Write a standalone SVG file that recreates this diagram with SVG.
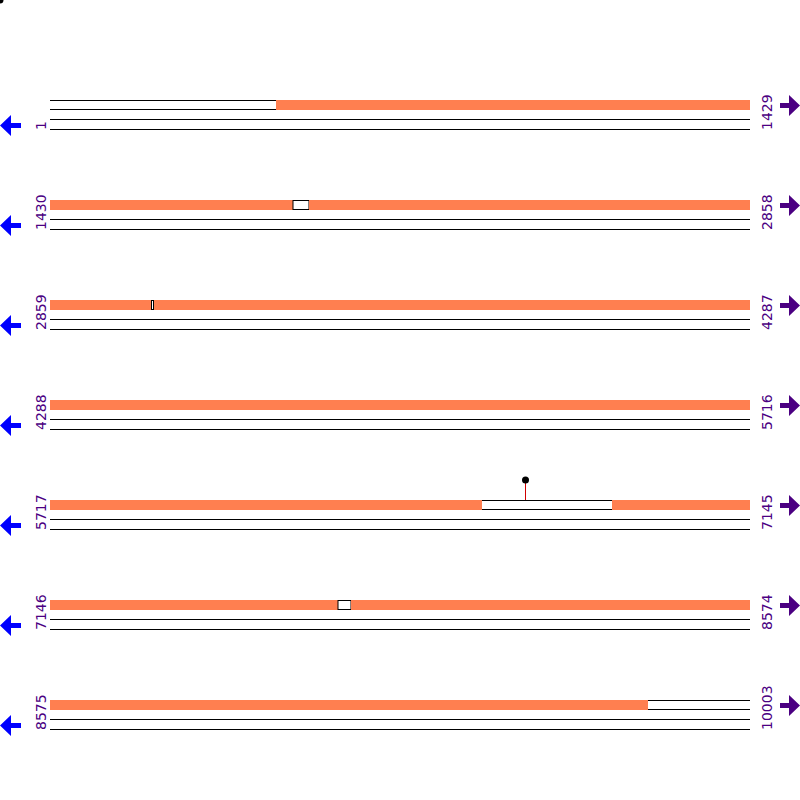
<svg xmlns="http://www.w3.org/2000/svg" width="800" height="800" viewBox="0 0 800 800">
<style>
.ln{stroke:#000;stroke-width:1;fill:none}
.bar{fill:#FF7F50}
.gap{fill:#fff;stroke:#000;stroke-width:1}
.lbl{font-family:"DejaVu Sans",sans-serif;font-size:14px;fill:#4B0082}
.la{fill:#0000FF}
.ra{fill:#4B0082}
</style>
<defs>
<g id="row">
<line class="ln" x1="50" y1="0.5" x2="750" y2="0.5"/>
<line class="ln" x1="50" y1="9.5" x2="750" y2="9.5"/>
<line class="ln" x1="50" y1="19.5" x2="750" y2="19.5"/>
<line class="ln" x1="50" y1="29.5" x2="750" y2="29.5"/>
</g>
<polygon id="larrow" points="0,25.5 11,15 11,23 21,23 21,28 11,28 11,36"/>
<polygon id="rarrow" points="800,5.5 789,-5 789,3 780,3 780,8 789,8 789,16"/>
</defs>
<circle cx="0" cy="0" r="3.5" fill="#000"/>
<g id="row1" transform="translate(0,100)">
<use href="#row"/>
<rect class="bar" x="276" y="0" width="474" height="10"/>
<text class="lbl" transform="translate(46,30) rotate(-90)">1</text>
<text class="lbl" transform="translate(772,30) rotate(-90)">1429</text>
<use href="#larrow" class="la"/>
<use href="#rarrow" class="ra"/>
</g>
<g id="row2" transform="translate(0,200)">
<use href="#row"/>
<rect class="bar" x="50" y="0" width="243" height="10"/>
<rect class="gap" x="293" y="0.5" width="16" height="9"/>
<rect class="bar" x="309" y="0" width="441" height="10"/>
<text class="lbl" transform="translate(46,30) rotate(-90)">1430</text>
<text class="lbl" transform="translate(772,30) rotate(-90)">2858</text>
<use href="#larrow" class="la"/>
<use href="#rarrow" class="ra"/>
</g>
<g id="row3" transform="translate(0,300)">
<use href="#row"/>
<rect class="bar" x="50" y="0" width="101" height="10"/>
<rect class="gap" x="151.5" y="0.5" width="2" height="9"/>
<rect class="bar" x="154" y="0" width="596" height="10"/>
<text class="lbl" transform="translate(46,30) rotate(-90)">2859</text>
<text class="lbl" transform="translate(772,30) rotate(-90)">4287</text>
<use href="#larrow" class="la"/>
<use href="#rarrow" class="ra"/>
</g>
<g id="row4" transform="translate(0,400)">
<use href="#row"/>
<rect class="bar" x="50" y="0" width="700" height="10"/>
<text class="lbl" transform="translate(46,30) rotate(-90)">4288</text>
<text class="lbl" transform="translate(772,30) rotate(-90)">5716</text>
<use href="#larrow" class="la"/>
<use href="#rarrow" class="ra"/>
</g>
<g id="row5" transform="translate(0,500)">
<use href="#row"/>
<rect class="bar" x="50" y="0" width="432" height="10"/>
<rect class="bar" x="612" y="0" width="138" height="10"/>
<line x1="525.5" y1="-20" x2="525.5" y2="0" stroke="#d00000" stroke-width="1"/>
<circle cx="525.5" cy="-20" r="3.5" fill="#000"/>
<text class="lbl" transform="translate(46,30) rotate(-90)">5717</text>
<text class="lbl" transform="translate(772,30) rotate(-90)">7145</text>
<use href="#larrow" class="la"/>
<use href="#rarrow" class="ra"/>
</g>
<g id="row6" transform="translate(0,600)">
<use href="#row"/>
<rect class="bar" x="50" y="0" width="288" height="10"/>
<rect class="gap" x="338" y="0.5" width="13" height="9"/>
<rect class="bar" x="351" y="0" width="399" height="10"/>
<text class="lbl" transform="translate(46,30) rotate(-90)">7146</text>
<text class="lbl" transform="translate(772,30) rotate(-90)">8574</text>
<use href="#larrow" class="la"/>
<use href="#rarrow" class="ra"/>
</g>
<g id="row7" transform="translate(0,700)">
<use href="#row"/>
<rect class="bar" x="50" y="0" width="598" height="10"/>
<text class="lbl" transform="translate(46,30) rotate(-90)">8575</text>
<text class="lbl" transform="translate(772,30) rotate(-90)">10003</text>
<use href="#larrow" class="la"/>
<use href="#rarrow" class="ra"/>
</g>
</svg>
